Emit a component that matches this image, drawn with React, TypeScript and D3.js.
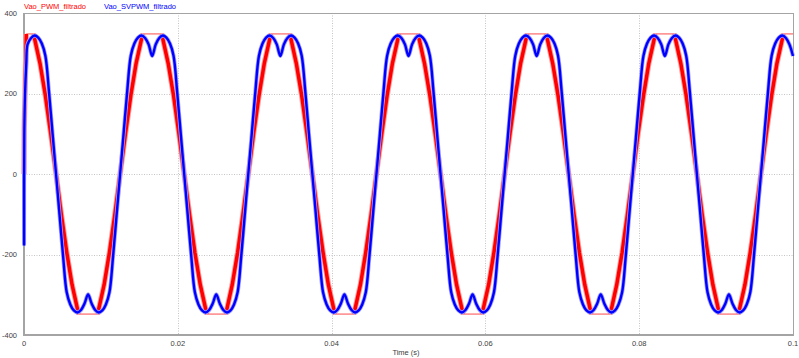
import React, { useEffect, useRef } from "react";
import * as d3 from "d3";

// ---- axis / legend text ----
const X_TICKS = [0, 0.02, 0.04, 0.06, 0.08, 0.1];
const X_TICK_LABELS = ["0", "0.02", "0.04", "0.06", "0.08", "0.1"];
const Y_TICKS = [-400, -200, 0, 200, 400];
const Y_TICK_LABELS = ["-400", "-200", "0", "200", "400"];
const SERIES_NAMES = ["Vao_PWM_filtrado", "Vao_SVPWM_filtrado"];
const X_LABEL = "Time (s)";

// ---- Vao_PWM_filtrado (red): time (s) / value (V) ----
const RED_T = [
  0, 0.00003, 0.0003, 0.00124, 0.00208, 0.00278, 0.00347, 0.00417, 0.00486, 0.00556, 0.00625, 0.0071,
  0.00957, 0.01042, 0.01111, 0.01181, 0.0125, 0.0132, 0.01389, 0.01458, 0.01543,
  0.01791, 0.01875, 0.01945, 0.02014, 0.02083, 0.02153, 0.02222, 0.02292, 0.02377,
  0.02624, 0.02708, 0.02778, 0.02847, 0.02917, 0.02986, 0.03056, 0.03125, 0.0321,
  0.03457, 0.03541, 0.03611, 0.0368, 0.0375, 0.03819, 0.03889, 0.03958, 0.04043,
  0.0429, 0.04375, 0.04444, 0.04514, 0.04583, 0.04653, 0.04722, 0.04791, 0.04876,
  0.05124, 0.05208, 0.05278, 0.05347, 0.05417, 0.05486, 0.05556, 0.05625, 0.0571,
  0.05957, 0.06042, 0.06111, 0.06181, 0.0625, 0.0632, 0.06389, 0.06458, 0.06543,
  0.06791, 0.06875, 0.06945, 0.07014, 0.07083, 0.07153, 0.07222, 0.07292, 0.07377,
  0.07624, 0.07708, 0.07778, 0.07847, 0.07917, 0.07986, 0.08056, 0.08125, 0.0821,
  0.08457, 0.08541, 0.08611, 0.0868, 0.0875, 0.08819, 0.08889, 0.08958, 0.09043,
  0.0929, 0.09375, 0.09444, 0.09514, 0.09583, 0.09653, 0.09722, 0.09791, 0.09876, 0.1,
];
const RED_V = [
  0, 115, 348, 348, 275, 195, 101, 0, -101, -195, -275, -348,
  -348, -275, -195, -101, 0, 101, 195, 275, 348,
  348, 275, 195, 101, 0, -101, -195, -275, -348,
  -348, -275, -195, -101, 0, 101, 195, 275, 348,
  348, 275, 195, 101, 0, -101, -195, -275, -348,
  -348, -275, -195, -101, 0, 101, 195, 275, 348,
  348, 275, 195, 101, 0, -101, -195, -275, -348,
  -348, -275, -195, -101, 0, 101, 195, 275, 348,
  348, 275, 195, 101, 0, -101, -195, -275, -348,
  -348, -275, -195, -101, 0, 101, 195, 275, 348,
  348, 275, 195, 101, 0, -101, -195, -275, -348,
  -348, -275, -195, -101, 0, 101, 195, 275, 348, 348,
];

// ---- Vao_SVPWM_filtrado (blue): start-up transient + samples every BLUE_STEP s ----
const BLUE_START_T = [0, 0.00001, 0.00004, 0.00013, 0.0003];
const BLUE_START_V = [0, -175, 100, 195, 275];
const BLUE_STEP = 1 / 2160;
const BLUE_V = [
  322, 338, 344, 339, 324, 294, 206, 103, 0, -103, -206, -294, -324, -339, -344, -338, -322, -299,
  -322, -338, -344, -339, -324, -294, -206, -103, 0, 103, 206, 294, 324, 339, 344, 338, 322,
  293, 322, 338, 344, 339, 324, 294, 206, 103, 0, -103, -206, -294, -324, -339, -344, -338, -322, -299,
  -322, -338, -344, -339, -324, -294, -206, -103, 0, 103, 206, 294, 324, 339, 344, 338, 322,
  293, 322, 338, 344, 339, 324, 294, 206, 103, 0, -103, -206, -294, -324, -339, -344, -338, -322, -299,
  -322, -338, -344, -339, -324, -294, -206, -103, 0, 103, 206, 294, 324, 339, 344, 338, 322,
  293, 322, 338, 344, 339, 324, 294, 206, 103, 0, -103, -206, -294, -324, -339, -344, -338, -322, -299,
  -322, -338, -344, -339, -324, -294, -206, -103, 0, 103, 206, 294, 324, 339, 344, 338, 322,
  293, 322, 338, 344, 339, 324, 294, 206, 103, 0, -103, -206, -294, -324, -339, -344, -338, -322, -299,
  -322, -338, -344, -339, -324, -294, -206, -103, 0, 103, 206, 294, 324, 339, 344, 338, 322,
  293, 322, 338, 344, 339, 324, 294, 206, 103, 0, -103, -206, -294, -324, -339, -344, -338, -322, -299,
  -322, -338, -344, -339, -324, -294, -206, -103, 0, 103, 206, 294, 324, 339, 344, 338, 322,
  293,
];

type P = { t: number; v: number };

export default function App() {
  const ref = useRef<SVGSVGElement>(null);

  useEffect(() => {
    const W = 799;
    const H = 358;
    const svg = d3.select(ref.current);
    svg.selectAll("*").remove();

    const x = d3.scaleLinear().domain([0, 0.1]).range([24, 793]);
    const y = d3.scaleLinear().domain([-400, 400]).range([335, 13]);
    const font = "'Liberation Sans', Arial, sans-serif";

    svg.append("rect").attr("width", W).attr("height", H).attr("fill", "#ffffff");

    // grid
    const grid = svg.append("g").attr("stroke", "#c4c4c4").attr("stroke-width", 1).attr("stroke-dasharray", "1,1.5");
    grid
      .selectAll("line.vx")
      .data(X_TICKS.filter((t) => t > 0 && t < 0.1))
      .join("line")
      .attr("x1", (d) => Math.round(x(d)) + 0.5)
      .attr("x2", (d) => Math.round(x(d)) + 0.5)
      .attr("y1", y(400))
      .attr("y2", y(-400));
    grid
      .selectAll("line.hy")
      .data(Y_TICKS.filter((v) => v > -400 && v < 400))
      .join("line")
      .attr("x1", x(0))
      .attr("x2", x(0.1))
      .attr("y1", (d) => Math.round(y(d)) + 0.5)
      .attr("y2", (d) => Math.round(y(d)) + 0.5);

    // frame
    const frame = svg.append("g").attr("stroke", "#a4a4a4").attr("fill", "none");
    frame.append("line").attr("x1", x(0)).attr("x2", x(0.1) + 1).attr("y1", y(400) + 0.5).attr("y2", y(400) + 0.5).attr("stroke-width", 1);
    frame.append("line").attr("x1", x(0.1) + 0.5).attr("x2", x(0.1) + 0.5).attr("y1", y(400)).attr("y2", y(-400)).attr("stroke-width", 1);
    frame.append("line").attr("x1", x(0)).attr("x2", x(0)).attr("y1", y(400)).attr("y2", y(-400) + 1).attr("stroke-width", 2);
    frame.append("line").attr("x1", x(0) - 1).attr("x2", x(0.1) + 1).attr("y1", y(-400)).attr("y2", y(-400)).attr("stroke-width", 2);

    const line = d3
      .line<P>()
      .x((d) => x(d.t))
      .y((d) => y(d.v));
    const smooth = d3
      .line<P>()
      .x((d) => x(d.t))
      .y((d) => y(d.v))
      .curve(d3.curveCatmullRom.alpha(0.5));

    // red series
    const red: P[] = RED_T.map((t, i) => ({ t, v: RED_V[i] }));
    const runs: P[][] = [];
    let cur: P[] = [red[0]];
    for (let i = 1; i < red.length; i++) {
      const a = red[i - 1];
      const b = red[i];
      const flat = a.v === b.v && Math.abs(a.v) >= 347;
      if (flat) {
        if (cur.length > 1) runs.push(cur);
        cur = [b];
      } else cur.push(b);
    }
    if (cur.length > 1) runs.push(cur);

    svg.append("path").attr("d", line(red)).attr("fill", "none").attr("stroke", "#ff4a4a").attr("stroke-width", 1);
    svg
      .selectAll("path.redU")
      .data(runs)
      .join("path")
      .attr("d", (d) => line(d))
      .attr("fill", "none")
      .attr("stroke", "#ffa0a0")
      .attr("stroke-width", 5.4)
      .attr("stroke-linejoin", "round");
    svg
      .selectAll("path.redC")
      .data(runs)
      .join("path")
      .attr("d", (d) => line(d))
      .attr("fill", "none")
      .attr("stroke", "#ff0000")
      .attr("stroke-width", 3.5)
      .attr("stroke-linejoin", "round");

    // blue series
    const blue: P[] = BLUE_START_T.map((t, i) => ({ t, v: BLUE_START_V[i] })).concat(
      BLUE_V.map((v, i) => ({ t: (i + 1) * BLUE_STEP, v }))
    );
    svg.append("path").attr("d", smooth(blue)).attr("fill", "none").attr("stroke", "#a0a0ff").attr("stroke-width", 4).attr("stroke-linejoin", "round");
    svg.append("path").attr("d", smooth(blue)).attr("fill", "none").attr("stroke", "#0000ff").attr("stroke-width", 2.4).attr("stroke-linejoin", "round");

    // tick labels
    const txt = svg.append("g").attr("font-family", font).attr("font-size", 7.5).attr("fill", "#404040");
    txt
      .selectAll("text.yl")
      .data(Y_TICKS)
      .join("text")
      .attr("x", 17)
      .attr("y", (d) => y(d) + 2.7)
      .attr("text-anchor", "end")
      .text((d, i) => Y_TICK_LABELS[i]);
    txt
      .selectAll("text.xl")
      .data(X_TICKS)
      .join("text")
      .attr("x", (d) => x(d))
      .attr("y", 346)
      .attr("text-anchor", "middle")
      .text((d, i) => X_TICK_LABELS[i]);
    txt.append("text").attr("x", 406).attr("y", 355).attr("text-anchor", "middle").text(X_LABEL);

    // legend
    const leg = svg.append("g").attr("font-family", font).attr("font-size", 7.5);
    leg.append("text").attr("x", 24).attr("y", 8.5).attr("fill", "#ff0000").text(SERIES_NAMES[0]);
    leg.append("text").attr("x", 104).attr("y", 8.5).attr("fill", "#0000ff").text(SERIES_NAMES[1]);
  }, []);

  return (
    <svg
      ref={ref}
      width={799}
      height={358}
      style={{ position: "absolute", left: 0, top: 0, display: "block" }}
    />
  );
}
